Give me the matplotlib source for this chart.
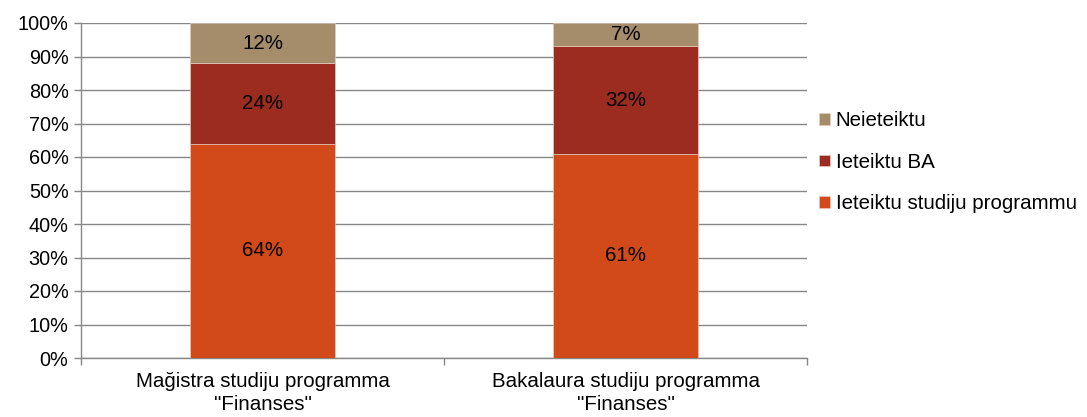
import matplotlib
matplotlib.use("Agg")
import matplotlib.pyplot as plt
from matplotlib.ticker import FixedLocator, PercentFormatter

plt.rcParams['font.family'] = ['Liberation Sans', 'DejaVu Sans']

categories = ['Mağistra studiju programma\n"Finanses"', 'Bakalaura studiju programma\n"Finanses"']
series_names = ['Ieteiktu studiju programmu', 'Ieteiktu BA', 'Neieteiktu']
studiju = [64, 61]
ba = [24, 32]
neieteiktu = [12, 7]
colors = ['#D24A1A', '#9B2C1F', '#A58C6A']

FS = 14.8

fig = plt.figure(figsize=(10.87, 4.17), dpi=100)
ax = fig.add_axes([81/1087, 1-358/417, (807-81)/1087, (358-23)/417])

x = list(range(len(categories)))
bottom = [0, 0]
handles = []
for name, vals, c in zip(series_names, [studiju, ba, neieteiktu], colors):
    bars = ax.bar(x, vals, width=0.4, bottom=bottom, color=c, label=name,
                  edgecolor='#E8C8B8', linewidth=0.5, zorder=3)
    for xi, v, b in zip(x, vals, bottom):
        ax.text(xi, b + v/2, f'{v}%', ha='center', va='center', fontsize=FS, color='black', zorder=4)
    bottom = [b + v for b, v in zip(bottom, vals)]
    handles.append(bars)

ax.set_xlim(-0.5, 1.5)
ax.set_ylim(0, 100)
ax.yaxis.set_major_locator(FixedLocator(range(0, 101, 10)))
ax.yaxis.set_major_formatter(PercentFormatter(decimals=0))
ax.grid(axis='y', color='#878787', linewidth=1, zorder=0)
ax.set_axisbelow(True)

ax.set_xticks(x)
ax.set_xticklabels(categories, fontsize=FS, linespacing=1.3)
ax.set_xticks([-0.5, 0.5, 1.5], minor=True)
ax.tick_params(axis='x', which='major', length=0, pad=10)
ax.tick_params(axis='x', which='minor', length=5, color='#878787', width=1)
ax.tick_params(axis='y', length=5, color='#878787', width=1, labelsize=14.3, pad=4)

for s in ['top', 'right']:
    ax.spines[s].set_visible(False)
for s in ['left', 'bottom']:
    ax.spines[s].set_color('#878787')
    ax.spines[s].set_linewidth(1)

leg = fig.legend(handles[::-1], series_names[::-1], loc='upper left',
                 bbox_to_anchor=(811/1087, 1-103/417), frameon=False,
                 fontsize=FS, handlelength=0.5, handleheight=0.5,
                 handletextpad=0.3, labelspacing=1.1, borderaxespad=0)

fig.savefig('out.png', dpi=100)
